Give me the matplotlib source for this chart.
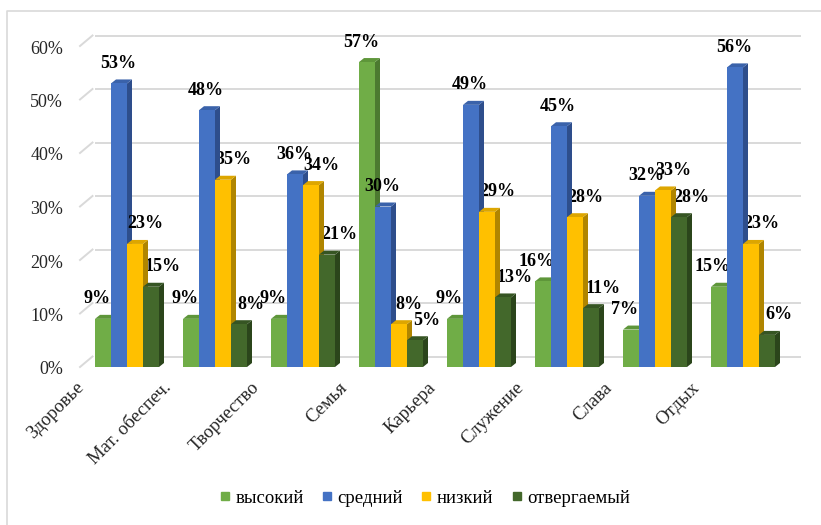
import numpy as np
import matplotlib.pyplot as plt
from matplotlib.transforms import offset_copy
from matplotlib.lines import Line2D
from matplotlib.patches import Polygon

plt.rcParams['font.family'] = ['Liberation Serif', 'DejaVu Serif']

# Данные: ценности и доли по уровням
categories = ['Здоровье', 'Мат. обеспеч.', 'Творчество', 'Семья',
              'Карьера', 'Служение', 'Слава', 'Отдых']
series_names = ['высокий', 'средний', 'низкий', 'отвергаемый']
vysokiy = [0.09, 0.09, 0.09, 0.57, 0.09, 0.16, 0.07, 0.15]
sredniy = [0.53, 0.48, 0.36, 0.30, 0.49, 0.45, 0.32, 0.56]
nizkiy = [0.23, 0.35, 0.34, 0.08, 0.29, 0.28, 0.33, 0.23]
otvergaemyy = [0.15, 0.08, 0.21, 0.05, 0.13, 0.11, 0.28, 0.06]
yticks = [0, 0.1, 0.2, 0.3, 0.4, 0.5, 0.6]

series = [vysokiy, sredniy, nizkiy, otvergaemyy]
front = ['#70AD47', '#4472C4', '#FFC000', '#43682B']
side = ['#4C7A30', '#2E4E8C', '#B08500', '#2B451B']
top = ['#5E963A', '#3A62AA', '#DDA600', '#365523']

W, H = 821, 525
fig = plt.figure(figsize=(W / 100, H / 100), dpi=100)
fig.patch.set_facecolor('white')

# оси: 0% внизу передней грани, 60% вверху
ax = fig.add_axes([83 / W, 158 / H, 704 / W, 321 / H])
ax.set_xlim(-0.5, 7.5)
ax.set_ylim(0, 0.6)
ax.axis('off')

px_x = 1 / 88.0    # один пиксель по x в единицах данных
px_y = 0.6 / 321.0  # один пиксель по y

# сетка на задней стенке
back = offset_copy(ax.transData, fig, x=12.5, y=10.5, units='dots')
for t in yticks:
    ax.plot([-0.5, 7.5], [t, t], color='#D9D9D9', lw=1.4, transform=back,
            clip_on=False, zorder=0)
    ax.plot([-0.5 - 3 * px_x, -0.5 - 3 * px_x + 12.5 * px_x],
            [t, t + 10.5 * px_y], color='#D9D9D9', lw=1.4, clip_on=False, zorder=0)
    lbl = offset_copy(ax.transData, fig, x=-20, y=-3, units='dots')
    ax.text(-0.5, t, '{:.0f}%'.format(t * 100), ha='right', va='center',
            fontsize=13, color='#262626', transform=lbl)

# столбцы с боковой и верхней гранью
bw = 16 * px_x
dx, dy = 5 * px_x, 4 * px_y
x = np.arange(len(categories))
label_dx = [-6, -1, 10, 12]
z = 2
for k, vals in enumerate(series):
    for i, v in enumerate(vals):
        x0 = x[i] + (k - 2) * bw
        x1 = x0 + bw
        ax.add_patch(Polygon([[x1, 0], [x1 + dx, dy], [x1 + dx, v + dy], [x1, v]],
                             closed=True, color=side[k], lw=0, zorder=z, clip_on=False))
        ax.add_patch(Polygon([[x0, v], [x1, v], [x1 + dx, v + dy], [x0 + dx, v + dy]],
                             closed=True, color=top[k], lw=0, zorder=z, clip_on=False))
        ax.bar(x0, v, width=bw, align='edge', color=front[k], lw=0, zorder=z + 0.5,
               clip_on=False)
        tr = offset_copy(ax.transData, fig, x=label_dx[k], y=20, units='dots')
        ax.text(x0 + bw / 2, v, '{:.0f}%'.format(v * 100), ha='center', va='center',
                fontsize=13, fontweight='bold', transform=tr, zorder=10)
        z += 1

# подписи категорий
for i, name in enumerate(categories):
    tr = offset_copy(ax.transData, fig, x=-2, y=-18, units='dots')
    ax.text(x[i] - 0.5, 0, name, rotation=45, ha='right', va='center',
            rotation_mode='anchor', fontsize=13.5, color='#262626', transform=tr)

# легенда
handles = [Line2D([], [], marker='s', ls='', markersize=6, color=c) for c in front]
fig.legend(handles, series_names, loc='center', bbox_to_anchor=(425 / W, 1 - 498 / H),
           ncol=4, frameon=False, fontsize=13.5, handlelength=0.5, handletextpad=0.3,
           columnspacing=1.0)

# рамка
fig.add_artist(Line2D([7 / W, 7 / W, 1], [0, 1 - 11 / H, 1 - 11 / H],
                      color='#D9D9D9', lw=1.2, transform=fig.transFigure))

fig.savefig('out.png', dpi=100)
